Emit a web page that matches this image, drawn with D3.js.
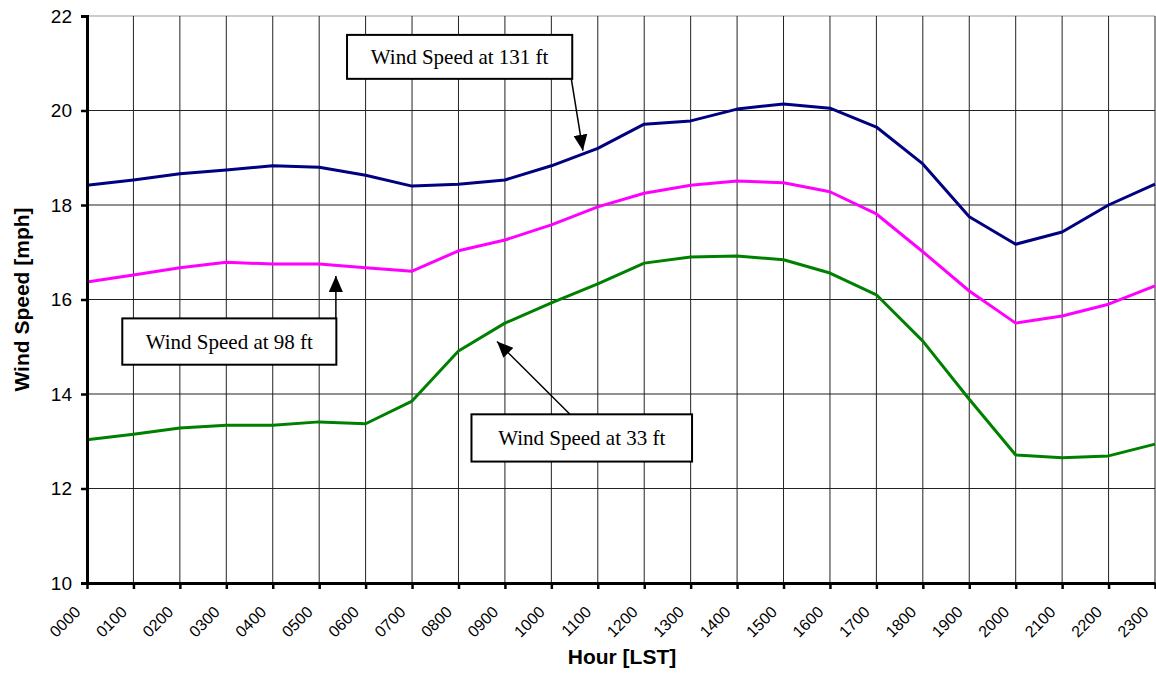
<!DOCTYPE html>
<html>
<head>
<meta charset="utf-8">
<script src="https://cdn.jsdelivr.net/npm/d3@7"></script>
<style>
  html, body { margin: 0; padding: 0; background: #fff; overflow: hidden; }
  svg { display: block; }
  .y-axis .tick text { font-family: "Liberation Sans", Arial, sans-serif; font-size: 19px; fill: #000; }
  .x-axis .tick text { font-family: "Liberation Sans", Arial, sans-serif; font-size: 16px; fill: #000; }
  .axis-title { font-family: "Liberation Sans", Arial, sans-serif; font-weight: bold; font-size: 21px; }
  .note { font-family: "Liberation Serif", "Times New Roman", serif; font-size: 21px; }
</style>
</head>
<body>
<div id="viz"></div>
<script>
const width = 1156;
const height = 673;

// hours of the day (LST)
const hours = ["0000", "0100", "0200", "0300", "0400", "0500", "0600", "0700", "0800", "0900", "1000", "1100",
    "1200", "1300", "1400", "1500", "1600", "1700", "1800", "1900", "2000", "2100", "2200", "2300"];

// wind speed [mph]
const ws131 = [18.42, 18.53, 18.66, 18.74, 18.83, 18.80, 18.63, 18.40, 18.44, 18.53, 18.83, 19.20,
    19.71, 19.78, 20.03, 20.14, 20.05, 19.65, 18.87, 17.75, 17.17, 17.43, 18.00, 18.44];
const ws98 = [16.37, 16.52, 16.67, 16.79, 16.75, 16.75, 16.67, 16.60, 17.03, 17.26, 17.58, 17.96,
    18.25, 18.42, 18.51, 18.47, 18.28, 17.81, 17.01, 16.18, 15.50, 15.65, 15.90, 16.29];
const ws33 = [13.03, 13.15, 13.28, 13.34, 13.34, 13.41, 13.37, 13.85, 14.91, 15.50, 15.93, 16.33,
    16.77, 16.90, 16.92, 16.84, 16.56, 16.10, 15.12, 13.89, 12.71, 12.65, 12.69, 12.94];

const yTicks = [10, 12, 14, 16, 18, 20, 22];

const series = [
    { name: "131 ft", values: ws131, color: "#000080" },
    { name: "98 ft", values: ws98, color: "#ff00ff" },
    { name: "33 ft", values: ws33, color: "#008000" }
];

// callouts in data units: box (hour index / mph) and arrow from -> to
const notes = [
    { text: "Wind Speed at 131 ft", box: [5.6, 21.6, 10.45, 20.67], from: [10.43, 20.67], to: [10.68, 19.15] },
    { text: "Wind Speed at 98 ft", box: [0.76, 15.6, 5.37, 14.62], from: [5.36, 15.6], to: [5.36, 16.5] },
    { text: "Wind Speed at 33 ft", box: [8.28, 13.57, 13.03, 12.57], from: [10.4, 13.57], to: [8.83, 15.11] }
];

const margin = { top: 16, right: 1, left: 87, bottom: 90 };
const innerWidth = width - margin.left - margin.right;
const innerHeight = height - margin.top - margin.bottom;

const svg = d3.select("#viz")
    .append("svg")
    .attr("width", width)
    .attr("height", height);

const defs = svg.append("defs");
defs.append("marker")
    .attr("id", "arrow")
    .attr("viewBox", "0 0 16 14")
    .attr("refX", 16)
    .attr("refY", 7)
    .attr("markerWidth", 16)
    .attr("markerHeight", 14)
    .attr("markerUnits", "userSpaceOnUse")
    .attr("orient", "auto")
    .append("path")
    .attr("d", "M0,0 L16,7 L0,14 Z")
    .attr("fill", "#000");

const xScale = d3.scaleLinear()
    .domain([0, hours.length - 1])
    .range([0, innerWidth]);

const yScale = d3.scaleLinear()
    .domain([10, 22])
    .range([innerHeight, 0]);

const g = svg.append("g")
    .attr("transform", `translate(${margin.left}, ${margin.top})`);

// gridlines
g.append("g")
    .selectAll("line")
    .data(yTicks)
    .enter()
    .append("line")
    .attr("x1", 0)
    .attr("x2", innerWidth)
    .attr("y1", d => yScale(d))
    .attr("y2", d => yScale(d))
    .attr("stroke", d => d === 22 ? "#999" : "#222")
    .attr("stroke-width", 1);

g.append("g")
    .selectAll("line")
    .data(hours.slice(1))
    .enter()
    .append("line")
    .attr("x1", (d, i) => xScale(i + 1))
    .attr("x2", (d, i) => xScale(i + 1))
    .attr("y1", 0)
    .attr("y2", innerHeight)
    .attr("stroke", "#222")
    .attr("stroke-width", 1);

// series lines
const lineGenerator = d3.line()
    .x((d, i) => xScale(i))
    .y(d => yScale(d));

series.forEach(s => {
    g.append("path")
        .attr("class", "line-path")
        .attr("d", lineGenerator(s.values))
        .attr("fill", "none")
        .attr("stroke", s.color)
        .attr("stroke-width", 3)
        .attr("stroke-linejoin", "round");
});

// axes
const yAxis = d3.axisLeft(yScale)
    .tickValues(yTicks)
    .tickFormat(d3.format("d"))
    .tickSize(6)
    .tickPadding(9);

const yAxisG = g.append("g")
    .attr("class", "y-axis")
    .call(yAxis);
yAxisG.select(".domain").attr("stroke-width", 3).attr("stroke", "#000");
yAxisG.selectAll(".tick line").attr("stroke-width", 2.5);

const xAxis = d3.axisBottom(xScale)
    .tickValues(d3.range(hours.length))
    .tickFormat(i => hours[i])
    .tickSize(6)
    .tickSizeOuter(0);

const xAxisG = g.append("g")
    .attr("class", "x-axis")
    .attr("transform", `translate(0, ${innerHeight})`)
    .call(xAxis);
xAxisG.select(".domain").attr("stroke-width", 3).attr("stroke", "#000");
xAxisG.selectAll(".tick line").attr("stroke-width", 2.5);
xAxisG.selectAll(".tick text")
    .attr("text-anchor", "end")
    .attr("dy", 0)
    .attr("transform", "translate(-6, 30) rotate(-45)")
    .attr("x", 0)
    .attr("y", 0);

// axis titles
svg.append("text")
    .attr("class", "axis-title")
    .attr("transform", `translate(29, ${margin.top + innerHeight / 2}) rotate(-90)`)
    .attr("text-anchor", "middle")
    .text("Wind Speed [mph]");

svg.append("text")
    .attr("class", "axis-title")
    .attr("x", 622)
    .attr("y", 664)
    .attr("text-anchor", "middle")
    .text("Hour [LST]");

// callouts
notes.forEach(n => {
    const x0 = xScale(n.box[0]), y0 = yScale(n.box[1]);
    const x1 = xScale(n.box[2]), y1 = yScale(n.box[3]);
    g.append("line")
        .attr("x1", xScale(n.from[0]))
        .attr("y1", yScale(n.from[1]))
        .attr("x2", xScale(n.to[0]))
        .attr("y2", yScale(n.to[1]))
        .attr("stroke", "#000")
        .attr("stroke-width", 1.5)
        .attr("marker-end", "url(#arrow)");
    g.append("rect")
        .attr("x", x0)
        .attr("y", y0)
        .attr("width", x1 - x0)
        .attr("height", y1 - y0)
        .attr("fill", "#fff")
        .attr("stroke", "#000")
        .attr("stroke-width", 2);
    g.append("text")
        .attr("class", "note")
        .attr("x", (x0 + x1) / 2)
        .attr("y", (y0 + y1) / 2)
        .attr("dy", "0.35em")
        .attr("text-anchor", "middle")
        .text(n.text);
});
</script>
</body>
</html>
